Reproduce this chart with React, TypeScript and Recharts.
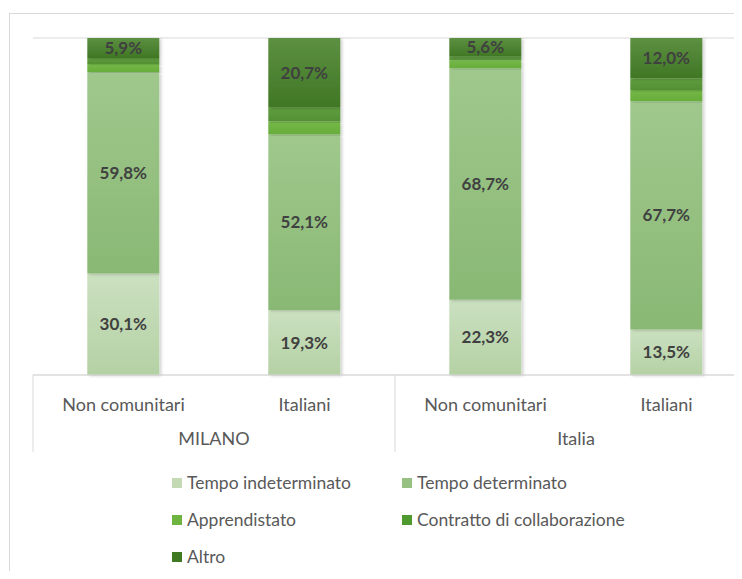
import React from "react";
import {
  BarChart,
  Bar,
  XAxis,
  YAxis,
  CartesianGrid,
  LabelList,
  Legend,
} from "recharts";

const categories = ["Non comunitari", "Italiani", "Non comunitari", "Italiani"];
const groups = ["MILANO", "MILANO", "Italia", "Italia"];
const tempoIndeterminato = [30.1, 19.3, 22.3, 13.5];
const tempoDeterminato = [59.8, 52.1, 68.7, 67.7];
const apprendistato = [2.4, 3.8, 2.4, 3.4];
const collaborazione = [1.8, 4.1, 1.0, 3.4];
const altro = [5.9, 20.7, 5.6, 12.0];
const yTicks = [0, 10, 20, 30, 40, 50, 60, 70, 80, 90, 100];

const data = categories.map((name, i) => ({
  name,
  group: groups[i],
  ti: tempoIndeterminato[i],
  td: tempoDeterminato[i],
  ap: apprendistato[i],
  co: collaborazione[i],
  al: altro[i],
}));

const series = [
  { key: "ti", name: "Tempo indeterminato", color: "#c3dab5", top: "#cbe0c0", bottom: "#b4d1a4", label: true },
  { key: "td", name: "Tempo determinato", color: "#96c183", top: "#a0c88d", bottom: "#89b874", label: true },
  { key: "ap", name: "Apprendistato", color: "#6db33f", top: "#74b848", bottom: "#68ad3b", label: false },
  { key: "co", name: "Contratto di collaborazione", color: "#4f9a2e", top: "#5f9e3f", bottom: "#548f35", label: false },
  { key: "al", name: "Altro", color: "#3f7a23", top: "#5d9042", bottom: "#3f7724", label: true },
];

const FONT = "Lato, 'DejaVu Sans', sans-serif";

const fmt = (v: any) => Number(v).toFixed(1).replace(".", ",") + "%";

const CategoryTick = (props: any) => {
  const { x, y, payload, index } = props;
  const half = payload && typeof payload.offset === "number" && payload.offset > 0 ? payload.offset : 90.5;
  const items: any[] = [];
  items.push(
    <text key="t" x={x} y={y + 29} textAnchor="middle" dominantBaseline="central" fill="#595959" fontSize={18} fontFamily={FONT}>
      {payload.value}
    </text>
  );
  const isFirstOfGroup = index === 0 || groups[index] !== groups[index - 1];
  const isLast = index === categories.length - 1;
  if (isFirstOfGroup) {
    items.push(<line key="l" x1={x - half} x2={x - half} y1={y} y2={y + 77} stroke="#d9d9d9" strokeWidth={1} />);
    items.push(
      <text key="g" x={x + half} y={y + 63} textAnchor="middle" dominantBaseline="central" fill="#595959" fontSize={18} fontFamily={FONT}>
        {groups[index]}
      </text>
    );
  }
  if (isLast) {
    items.push(<line key="r" x1={x + half} x2={x + half} y1={y} y2={y + 77} stroke="#d9d9d9" strokeWidth={1} />);
  }
  return <g>{items}</g>;
};

const LegendContent = () => (
  <div
    style={{
      display: "grid",
      gridTemplateColumns: "230px 300px",
      gridAutoRows: "37px",
      fontFamily: FONT,
      fontSize: 17.5,
      color: "#595959",
    }}
  >
    {series.map((s) => (
      <div key={s.key} style={{ display: "flex", alignItems: "center", whiteSpace: "nowrap" }}>
        <span style={{ display: "inline-block", width: 10, height: 10, background: s.color, marginRight: 5 }} />
        <span>{s.name}</span>
      </div>
    ))}
  </div>
);

export default function App() {
  return (
    <div style={{ position: "relative", width: 734, height: 571, overflow: "hidden", marginBottom: -8 }}>
      <div
        style={{
          position: "absolute",
          left: 1,
          top: 5,
          width: 800,
          height: 700,
          border: "1px solid #d9d9d9",
          boxSizing: "border-box",
        }}
      />
      <div style={{ position: "absolute", left: 0, top: 0 }}>
        <BarChart
          width={770}
          height={571}
          data={data}
          margin={{ top: 30, right: 21, left: 25, bottom: 114 }}
          barCategoryGap="30%"
        >
          <defs>
            {series.map((s) => (
              <linearGradient key={s.key} id={"grad-" + s.key} x1="0" y1="0" x2="0" y2="1">
                <stop offset="0%" stopColor={s.top} />
                <stop offset="100%" stopColor={s.bottom} />
              </linearGradient>
            ))}
            <filter id="barShadow" x="-10%" y="-10%" width="130%" height="120%">
              <feDropShadow dx="2" dy="1" stdDeviation="1.5" floodColor="#000" floodOpacity="0.18" />
            </filter>
          </defs>
          <CartesianGrid vertical={false} stroke="#d9d9d9" strokeWidth={1} />
          <YAxis domain={[0, 100]} ticks={yTicks} width={0} tick={false} axisLine={false} tickLine={false} />
          <XAxis
            dataKey="name"
            height={90}
            tickLine={false}
            tickSize={0}
            tickMargin={0}
            axisLine={{ stroke: "#d9d9d9" }}
            tick={<CategoryTick />}
            interval={0}
          />
          <Legend
            layout="horizontal"
            verticalAlign="middle"
            align="center"
            content={<LegendContent />}
            wrapperStyle={{ left: 164, top: 456, width: 560, height: 111 }}
          />
          {series.map((s) => (
            <Bar
              key={s.key}
              dataKey={s.key}
              name={s.name}
              stackId="a"
              fill={"url(#grad-" + s.key + ")"}
              isAnimationActive={false}
              style={{ filter: "url(#barShadow)" }}
            >
              {s.label ? (
                <LabelList
                  dataKey={s.key}
                  position="center"
                  formatter={fmt}
                  fill="#404040"
                  fontSize={17}
                  fontWeight="bold"
                  fontFamily={FONT}
                />
              ) : null}
            </Bar>
          ))}
        </BarChart>
      </div>
    </div>
  );
}
